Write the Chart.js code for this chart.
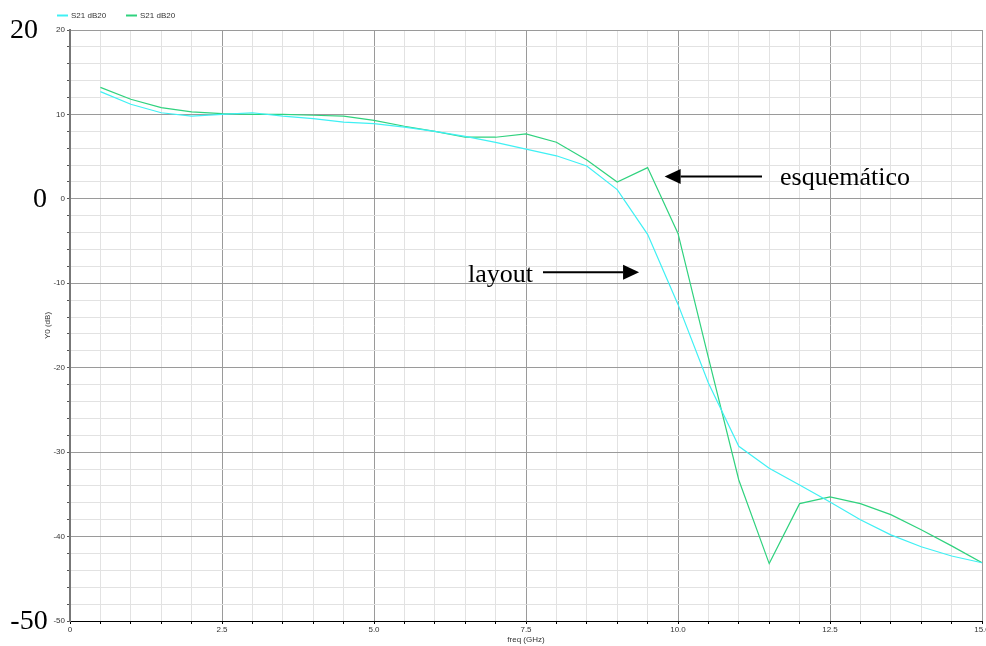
<!DOCTYPE html>
<html>
<head>
<meta charset="utf-8">
<script src="https://cdn.jsdelivr.net/npm/chart.js@4"></script>
<style>
  html, body { margin: 0; padding: 0; background: #fff; }
  #wrap { width: 986px; height: 646px; }
</style>
</head>
<body>
<div id="wrap"><canvas id="s21Chart" width="986" height="646"></canvas></div>
<script>
// frequency points (GHz)
const freq = [0.5, 1.0, 1.5, 2.0, 2.5, 3.0, 3.5, 4.0, 4.5, 5.0,
              5.5, 6.0, 6.5, 7.0, 7.5, 8.0, 8.5, 9.0, 9.5, 10.0,
              10.5, 11.0, 11.5, 12.0, 12.5, 13.0, 13.5, 14.0, 14.5, 15.0];

// S21 dB20, layout simulation
const s21Layout = [12.7, 11.2, 10.2, 9.8, 10.0, 10.2, 9.8, 9.5, 9.1, 8.9,
                   8.5, 8.0, 7.4, 6.7, 5.9, 5.1, 3.9, 1.1, -4.2, -12.5,
                   -21.8, -29.3, -31.9, -33.9, -35.9, -38.0, -39.8, -41.2, -42.3, -43.1];

// S21 dB20, schematic simulation
const s21Schematic = [13.2, 11.8, 10.8, 10.3, 10.1, 10.0, 10.0, 9.9, 9.8, 9.3,
                      8.6, 8.0, 7.3, 7.3, 7.7, 6.7, 4.6, 2.0, 3.7, -4.1,
                      -18.8, -33.3, -43.2, -36.1, -35.3, -36.1, -37.4, -39.2, -41.1, -43.1];

const seriesNames = ['S21 dB20', 'S21 dB20'];
const seriesColors = ['#3ff0f4', '#2fd27e'];

const xMajorLabels = { 0: '0', 2.5: '2.5', 5: '5.0', 7.5: '7.5', 10: '10.0', 12.5: '12.5', 15: '15.0' };
const yMajorLabels = [20, 10, 0, -10, -20, -30, -40, -50];
const sideLabels = ['20', '0', '-50'];

const SMALL = { family: '"Liberation Sans", Arial, sans-serif', size: 8 };
const SERIF = '"Liberation Serif", "Times New Roman", serif';

const isMajorX = v => Math.abs(v / 2.5 - Math.round(v / 2.5)) < 1e-6;
const isMajorY = v => Math.abs(v / 10 - Math.round(v / 10)) < 1e-6;

// legend, big side labels, arrows and notes
const overlay = {
  id: 'overlay',
  afterDraw(chart) {
    const ctx = chart.ctx;
    const xs = chart.scales.x, ys = chart.scales.y;
    ctx.save();

    // legend strip at the top
    ctx.font = '8px "Liberation Sans", Arial, sans-serif';
    ctx.textBaseline = 'middle';
    const legX = [57, 126];
    seriesNames.forEach((name, i) => {
      ctx.strokeStyle = seriesColors[i];
      ctx.lineWidth = 2;
      ctx.beginPath();
      ctx.moveTo(legX[i], 15.5);
      ctx.lineTo(legX[i] + 11, 15.5);
      ctx.stroke();
      ctx.fillStyle = '#333';
      ctx.fillText(name, legX[i] + 14, 16);
    });

    // large axis values on the left
    ctx.fillStyle = '#000';
    ctx.font = '28px ' + SERIF;
    ctx.textAlign = 'center';
    ctx.textBaseline = 'middle';
    const sideX = { '20': 24, '0': 40, '-50': 29 };
    sideLabels.forEach(t => {
      ctx.fillText(t, sideX[t], ys.getPixelForValue(Number(t)) + 1);
    });

    // annotations
    ctx.font = '26px ' + SERIF;
    ctx.textAlign = 'left';
    ctx.fillText('esquemático', 780, ys.getPixelForValue(2.4));
    ctx.fillText('layout', 468, ys.getPixelForValue(-9.0));

    const arrow = (x0, y0, x1, y1) => {
      const dir = Math.sign(x1 - x0);
      const headLen = 16;
      ctx.strokeStyle = '#000';
      ctx.lineWidth = 2;
      ctx.beginPath();
      ctx.moveTo(x0, y0);
      ctx.lineTo(x1 - dir * headLen, y1);
      ctx.stroke();
      ctx.fillStyle = '#000';
      ctx.beginPath();
      ctx.moveTo(x1, y1);
      ctx.lineTo(x1 - dir * headLen, y1 - 7.5);
      ctx.lineTo(x1 - dir * headLen, y1 + 7.5);
      ctx.closePath();
      ctx.fill();
    };
    const yTop = ys.getPixelForValue(2.65);
    arrow(762, yTop, xs.getPixelForValue(9.78), yTop);
    const yLow = ys.getPixelForValue(-8.7);
    arrow(543, yLow, xs.getPixelForValue(9.36), yLow);

    ctx.restore();
  }
};

new Chart(document.getElementById('s21Chart').getContext('2d'), {
  type: 'line',
  data: {
    labels: freq,
    datasets: [
      {
        label: seriesNames[0],
        data: freq.map((f, i) => ({ x: f, y: s21Layout[i] })),
        borderColor: seriesColors[0],
        borderWidth: 1.2,
        pointRadius: 0,
        tension: 0
      },
      {
        label: seriesNames[1],
        data: freq.map((f, i) => ({ x: f, y: s21Schematic[i] })),
        borderColor: seriesColors[1],
        borderWidth: 1.2,
        pointRadius: 0,
        tension: 0
      }
    ]
  },
  options: {
    responsive: false,
    animation: false,
    layout: { padding: { top: 30, right: 4, left: 0, bottom: 0 } },
    plugins: {
      legend: { display: false },
      tooltip: { enabled: false }
    },
    scales: {
      x: {
        type: 'linear',
        min: 0,
        max: 15,
        afterFit: s => { s.height = 25; s.paddingLeft = 0; s.paddingRight = 0; },
        ticks: {
          stepSize: 0.5,
          autoSkip: false,
          maxRotation: 0,
          padding: 1,
          color: '#333',
          font: SMALL,
          callback: v => (isMajorX(v) ? xMajorLabels[Math.round(v * 2) / 2] : '')
        },
        grid: {
          color: c => (isMajorX(c.tick.value) ? '#9a9a9a' : '#e2e2e2'),
          tickColor: '#000',
          tickLength: 3,
          lineWidth: 1
        },
        border: { color: '#000', width: 1 },
        title: {
          display: true,
          text: 'freq (GHz)',
          color: '#333',
          font: SMALL,
          padding: { top: 0, bottom: 1 }
        }
      },
      y: {
        min: -50,
        max: 20,
        afterFit: s => { s.width = 70; s.paddingTop = 0; s.paddingBottom = 0; },
        ticks: {
          stepSize: 2,
          autoSkip: false,
          padding: 2,
          color: '#333',
          font: SMALL,
          callback: v => (yMajorLabels.includes(v) ? String(v) : '')
        },
        grid: {
          color: c => (isMajorY(c.tick.value) ? '#9a9a9a' : '#e2e2e2'),
          tickColor: '#555',
          tickLength: 3,
          lineWidth: 1
        },
        border: { color: '#777', width: 2 },
        title: {
          display: true,
          text: 'Y0 (dB)',
          color: '#333',
          font: SMALL,
          padding: { top: 43, bottom: 0 }
        }
      }
    }
  },
  plugins: [overlay]
});
</script>
</body>
</html>
